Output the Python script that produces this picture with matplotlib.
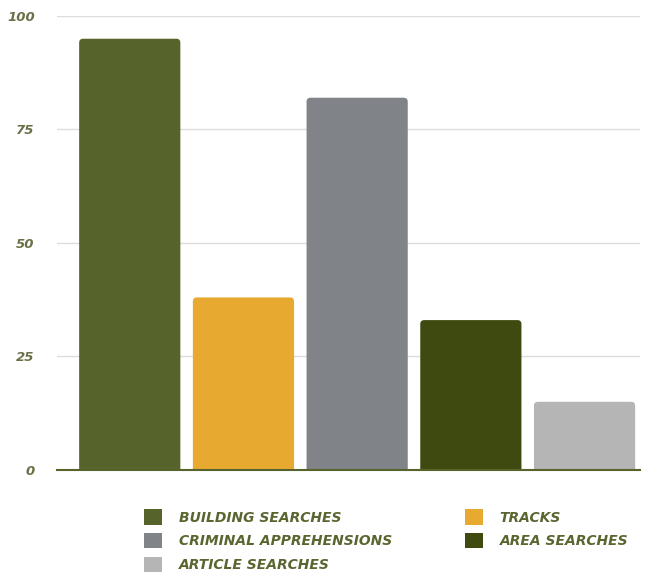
import matplotlib.pyplot as plt
from matplotlib.patches import Patch, FancyBboxPatch

categories = ['BUILDING SEARCHES', 'TRACKS', 'CRIMINAL APPREHENSIONS', 'AREA SEARCHES', 'ARTICLE SEARCHES']
values = [95, 38, 82, 33, 15]
colors = ['#56632a', '#e8a931', '#808488', '#3f4a10', '#b5b5b5']
yticks = [0, 25, 50, 75, 100]

text_color = '#5a6630'

fig = plt.figure(figsize=(6.52, 5.73), dpi=100)
ax = fig.add_axes([0.0874, 0.180, 0.8946, 0.792])

x = range(len(values))
bars = ax.bar(x, values, width=0.89, color=colors, zorder=3)

ax.set_xlim(-0.64, 4.49)
ax.set_ylim(0, 100)

# swap plain bars for ones with slightly rounded corners
aspect = (100 / (0.792 * 573)) / (5.13 / (0.8946 * 652))
for b in bars:
    b.set_visible(False)
    p = FancyBboxPatch((b.get_x(), -3), b.get_width(), b.get_height() + 3,
                       boxstyle='round,pad=0,rounding_size=0.035',
                       mutation_aspect=aspect, facecolor=b.get_facecolor(),
                       edgecolor='none', zorder=3)
    ax.add_patch(p)

ax.set_yticks(yticks)
ax.set_yticklabels([str(t) for t in yticks], fontsize=9.5, fontweight='bold',
                   fontstyle='italic', color='#6b7048')
ax.set_xticks([])
ax.tick_params(axis='y', length=0, pad=16)
ax.grid(axis='y', color='#dcdcdc', linewidth=1, zorder=0)
for s in ['top', 'right', 'left']:
    ax.spines[s].set_visible(False)
ax.spines['bottom'].set_color('#56632a')
ax.spines['bottom'].set_linewidth(1.5)
ax.spines['bottom'].set_zorder(4)

# legend: column-first order
order = [0, 2, 4, 1, 3]
handles = [Patch(facecolor=colors[i], edgecolor='none') for i in order]
labels = [categories[i] for i in order]
fig.legend(handles, labels, ncol=2, loc='upper left', bbox_to_anchor=(0.21, 0.123),
           frameon=False, handlelength=1.3, handleheight=1.3, handletextpad=1.2,
           columnspacing=5.25, labelspacing=0.6,
           prop={'size': 10, 'weight': 'bold', 'style': 'italic'},
           labelcolor=text_color, borderpad=0)

fig.savefig('out.png', dpi=100)
